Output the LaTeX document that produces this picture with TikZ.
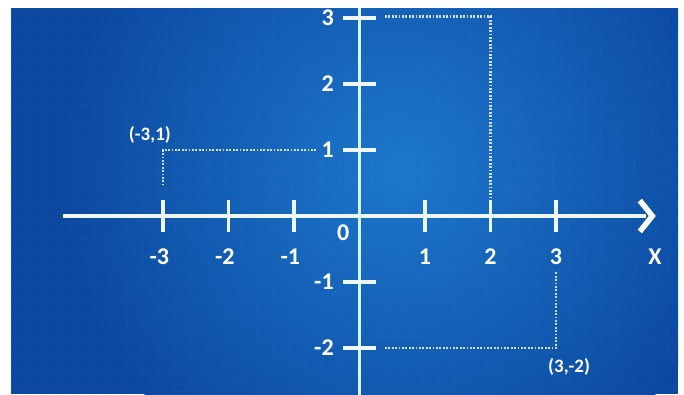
\documentclass[tikz,border=0pt]{standalone}
\usepackage{fontspec}
\setmainfont{Carlito}[BoldFont={Carlito Bold}]
\definecolor{bpdark}{HTML}{0C48A0}
\definecolor{bplight}{HTML}{1C77CC}
\definecolor{axiswhite}{HTML}{EEF6FF}
\definecolor{gridc}{HTML}{5A9BE0}
\tikzset{
  axisline/.style={draw=axiswhite, line width=3.6pt},
  tickline/.style={draw=axiswhite, line width=3.4pt},
  dotline/.style={draw=white, line width=2.6pt, dash pattern=on 1.8pt off 1.6pt, opacity=0.8},
  numlabel/.style={text=white, font=\bfseries\fontsize{24}{24}\selectfont, inner sep=0pt},
  ptlabel/.style={text=white, font=\bfseries\fontsize{19}{19}\selectfont, inner sep=0pt},
  chev/.style={draw=white, line width=5.5pt, line join=miter, line cap=butt}
}
\begin{document}
\begin{tikzpicture}[x=1pt,y=-1pt]
\useasboundingbox (0,0) rectangle (684,394);
\fill[white] (0,0) rectangle (684,394);
\begin{scope}
\clip (11,8) rectangle (678,394);
\fill[bpdark] (11,8) rectangle (678,394);
\shade[inner color=bplight, outer color=bpdark] (400,170) circle (340);
% faint grid
\foreach \gx in {0,...,42} {\draw[gridc, opacity=0.05, line width=0.6pt] (11+\gx*16.4,8) -- (11+\gx*16.4,394);}
\foreach \gy in {0,...,24} {\draw[gridc, opacity=0.05, line width=0.6pt] (11,8+\gy*16.4) -- (678,8+\gy*16.4);}
\begin{scope}[shift={(359.5pt,-216pt)}, x=65.5pt, y=66pt]
  \coordinate (O) at (0,0);
  \coordinate (xl) at (-4.52,0);
  \coordinate (xr) at (4.38,0);
  \coordinate (yt) at (0,3.5);
  \coordinate (yb) at (0,-2.8);
  % dotted guides
  \coordinate (P1) at (-3,1);
  \coordinate (P1h) at (-0.66,1);
  \coordinate (P1v) at (-3,0.48);
  \coordinate (P2) at (2,3.02);
  \coordinate (P2h) at (0.39,3.02);
  \coordinate (P2v) at (2,0.29);
  \coordinate (P3) at (3,-2);
  \coordinate (P3h) at (0.39,-2);
  \coordinate (P3v) at (3,-0.83);
  \draw[dotline] (P1h) -- (P1) -- (P1v);
  \draw[dotline] (P2h) -- (P2) -- (P2v);
  \draw[dotline] (P3h) -- (P3) -- (P3v);
  % axes
  \draw[axisline] (xl) -- (xr);
  \draw[axisline, draw=axiswhite!90!cyan] (yb) -- (yt);
  \coordinate (c1) at (4.28,0.235);
  \coordinate (c2) at (4.47,0);
  \coordinate (c3) at (4.28,-0.235);
  \draw[chev] (c1) -- (c2) -- (c3);
  % x ticks and labels
  \foreach \i/\t in {-3/\llap{-}3,-2/\llap{-}2,-1/\llap{-}1,1/1,2/2,3/3} {
    \draw[tickline] (\i,0.245) -- (\i,-0.245);
    \node[numlabel] (xlab\i) at (\i,-0.61) {\t};
  }
  % y ticks and labels
  \foreach \j/\t in {3/3,2/2,1/1,-1/-1,-2/-2} {
    \draw[tickline] (-0.245,\j) -- (0.245,\j);
    \node[numlabel, anchor=east] (ylab\j) at (-0.39,\j) {\t};
  }
  \node[numlabel] (zero) at (-0.25,-0.26) {0};
  \node[numlabel] (xname) at (4.51,-0.62) {X};
  \node[ptlabel] (L1) at (-3.2,1.23) {(-3,1)};
  \node[ptlabel] (L2) at (2.17,3.30) {(2,3)};
  \node[ptlabel] (L3) at (3.2,-2.29) {(3,-2)};
\end{scope}
\end{scope}
\end{tikzpicture}
\end{document}
